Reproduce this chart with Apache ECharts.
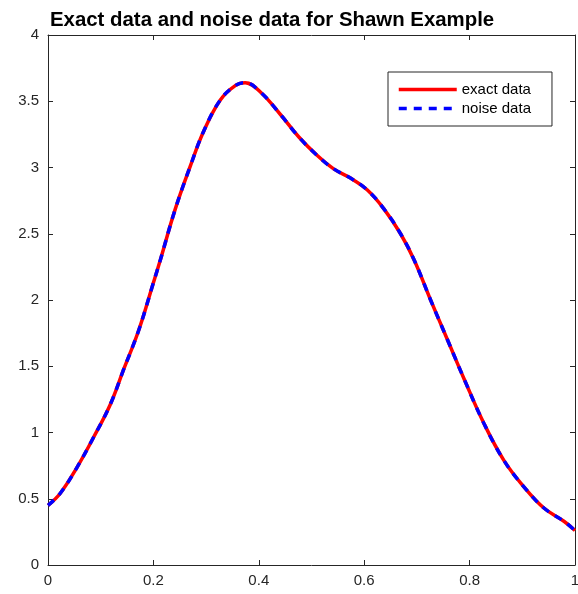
<!DOCTYPE html>
<html><head><meta charset="utf-8">
<script src="https://cdn.jsdelivr.net/npm/echarts@6/dist/echarts.min.js"></script>
<style>html,body{margin:0;padding:0;background:#fff}#c{width:578px;height:594px}</style>
</head><body><div id="c"></div>
<script>
const xs = [0, 0.023, 0.054, 0.086, 0.118, 0.143, 0.172, 0.2, 0.213, 0.241, 0.27, 0.295, 0.327, 0.356, 0.374, 0.403, 0.441, 0.476, 0.511, 0.542, 0.574, 0.606, 0.637, 0.669, 0.695, 0.726, 0.758, 0.79, 0.827, 0.865, 0.903, 0.941, 0.979, 1.0];
const exactY = [0.45, 0.54, 0.73, 0.96, 1.21, 1.47, 1.77, 2.13, 2.30, 2.68, 3.01, 3.27, 3.51, 3.62, 3.64, 3.57, 3.40, 3.23, 3.09, 2.99, 2.92, 2.83, 2.69, 2.50, 2.30, 2.00, 1.70, 1.40, 1.07, 0.79, 0.59, 0.43, 0.33, 0.26];
const noiseY = [0.45, 0.54, 0.73, 0.96, 1.21, 1.47, 1.77, 2.13, 2.30, 2.68, 3.01, 3.27, 3.51, 3.62, 3.64, 3.57, 3.40, 3.23, 3.09, 2.99, 2.92, 2.83, 2.69, 2.50, 2.30, 2.00, 1.70, 1.40, 1.07, 0.79, 0.59, 0.43, 0.33, 0.26];
const xTicks = [0, 0.2, 0.4, 0.6, 0.8, 1];
const yTicks = [0, 0.5, 1, 1.5, 2, 2.5, 3, 3.5, 4];

const axCol = '#262626';
const font = 'Liberation Sans, Arial, Helvetica, sans-serif';
const chart = echarts.init(document.getElementById('c'), null, {renderer: 'canvas'});
const base = {
  axisLine: {show: true, onZero: false, lineStyle: {color: axCol, width: 1}},
  axisTick: {show: true, inside: true, length: 5, lineStyle: {color: axCol}},
  splitLine: {show: false}
};
chart.setOption({
  animation: false,
  backgroundColor: '#fff',
  title: {
    text: 'Exact data and noise data for Shawn Example',
    left: 45, top: 5,
    textStyle: {fontFamily: font, fontSize: 20.4, fontWeight: 'bold', color: '#000'}
  },
  legend: {
    left: 388, top: 72, orient: 'vertical',
    itemWidth: 58, itemHeight: 14, itemGap: 4,
    padding: [10, 21, 10, 9],
    borderColor: axCol, borderWidth: 1, backgroundColor: '#fff',
    itemStyle: {opacity: 0},
    lineStyle: {width: 3.5},
    textStyle: {fontFamily: font, fontSize: 15, color: '#000'},
    data: ['exact data', 'noise data']
  },
  grid: {left: 48, right: 3, top: 35, bottom: 29, containLabel: false, outerBoundsMode: 'none'},
  xAxis: [
    Object.assign({}, base, {type: 'value', min: 0, max: 1, interval: 0.2, position: 'bottom',
      axisLabel: {color: axCol, fontFamily: font, fontSize: 15, margin: 8,
        formatter: v => xTicks.includes(+v.toFixed(2)) ? String(+v.toFixed(2)) : ''}}),
    Object.assign({}, base, {type: 'value', min: 0, max: 1, interval: 0.2, position: 'top', axisLabel: {show: false}})
  ],
  yAxis: [
    Object.assign({}, base, {type: 'value', min: 0, max: 4, interval: 0.5, position: 'left',
      axisLabel: {color: axCol, fontFamily: font, fontSize: 15, margin: 9,
        formatter: v => yTicks.includes(+v.toFixed(2)) ? String(+v.toFixed(2)) : ''}}),
    Object.assign({}, base, {type: 'value', min: 0, max: 4, interval: 0.5, position: 'right', axisLabel: {show: false}})
  ],
  series: [
    {name: 'exact data', type: 'line', smooth: 0.4, symbol: 'none',
      lineStyle: {color: '#ff0000', width: 3.5}, itemStyle: {color: '#ff0000'},
      data: xs.map((x, i) => [x, exactY[i]])},
    {name: 'noise data', type: 'line', smooth: 0.4, symbol: 'none',
      lineStyle: {color: '#0000ff', width: 3.5, type: [8, 7]}, itemStyle: {color: '#0000ff'},
      data: xs.map((x, i) => [x, noiseY[i]])}
  ]
});
</script></body></html>
